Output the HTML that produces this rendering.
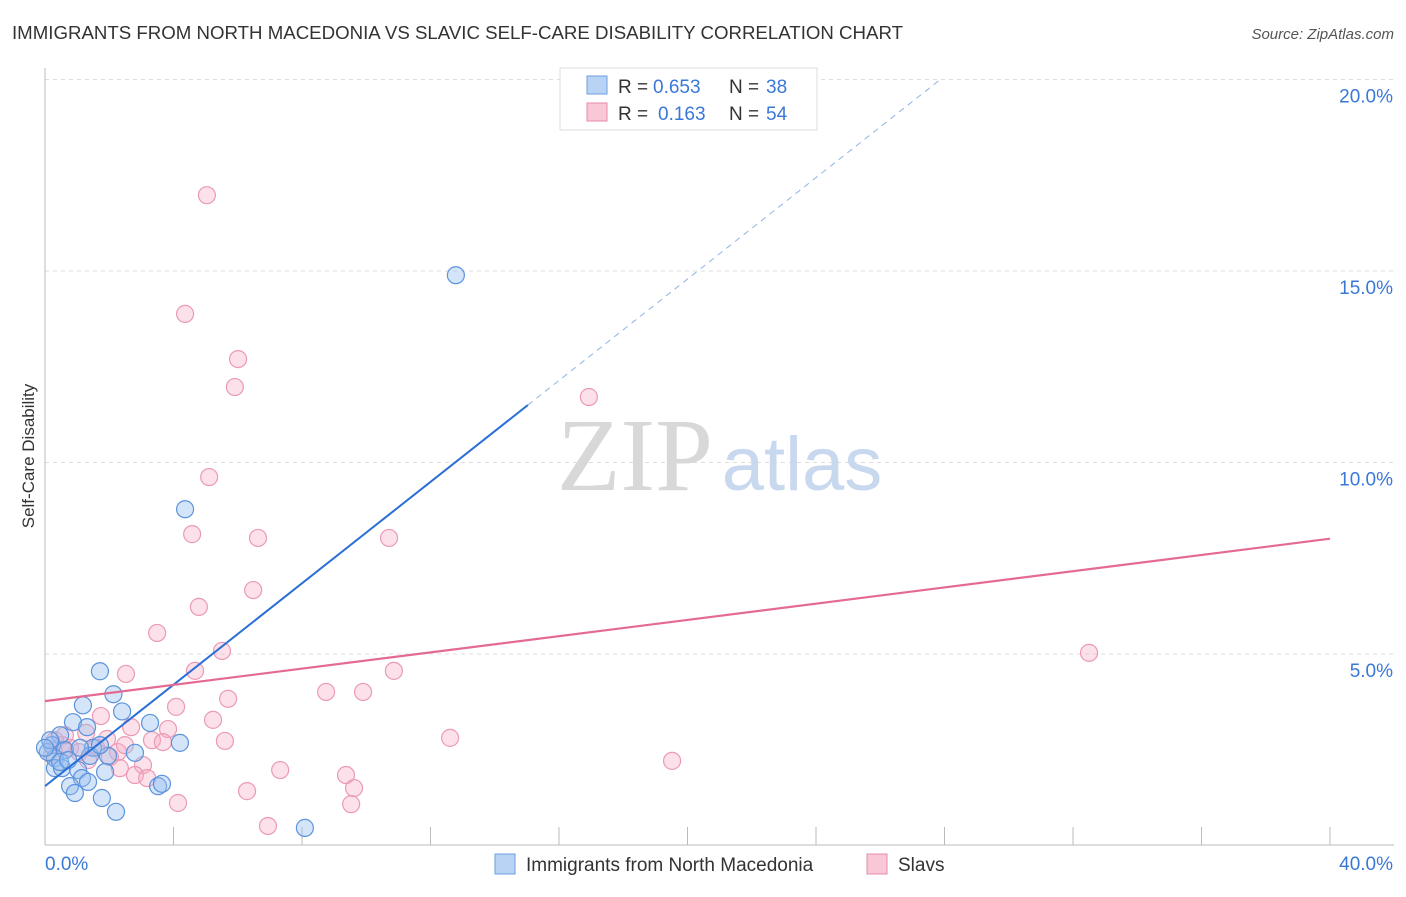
<!DOCTYPE html>
<html><head><meta charset="utf-8"><style>
body{margin:0;background:#fff;font-family:"Liberation Sans",sans-serif;}
</style></head><body>
<svg id="chart" width="1406" height="892" xmlns="http://www.w3.org/2000/svg">
<text x="12" y="39" font-size="18" fill="#333" textLength="891" lengthAdjust="spacingAndGlyphs">IMMIGRANTS FROM NORTH MACEDONIA VS SLAVIC SELF-CARE DISABILITY CORRELATION CHART</text>
<text x="1394" y="39" font-size="15" fill="#555" text-anchor="end" font-style="italic">Source: ZipAtlas.com</text>
<g id="grid"></g>
<text x="635" y="490" font-size="104" fill="#d8d8d8" font-family="Liberation Serif" text-anchor="middle">ZIP</text>
<text x="802" y="490" font-size="76" fill="#c8d8ef" text-anchor="middle">atlas</text>
<g id="marks"></g>
<text x="34" y="456" font-size="17" fill="#333" text-anchor="middle" transform="rotate(-90 34 456)">Self-Care Disability</text>
<g>
<rect x="560" y="68" width="257" height="62" fill="#fff" stroke="#ddd"/>
<rect x="587" y="76" width="20" height="18" fill="#b9d3f5" stroke="#6a9fe0"/>
<rect x="587" y="103" width="20" height="18" fill="#f8c8d6" stroke="#e98aa8"/>
<text x="618" y="93" font-size="19" fill="#333">R =</text>
<text x="653" y="93" font-size="19" fill="#3a78d8">0.653</text>
<text x="729" y="93" font-size="19" fill="#333">N =</text>
<text x="766" y="93" font-size="19" fill="#3a78d8">38</text>
<text x="618" y="120" font-size="19" fill="#333">R =</text>
<text x="658" y="120" font-size="19" fill="#3a78d8">0.163</text>
<text x="729" y="120" font-size="19" fill="#333">N =</text>
<text x="766" y="120" font-size="19" fill="#3a78d8">54</text>
</g>
<g>
<rect x="495" y="854" width="20" height="20" fill="#b9d3f5" stroke="#6a9fe0"/>
<text x="526" y="871" font-size="19" fill="#333">Immigrants from North Macedonia</text>
<rect x="867" y="854" width="20" height="20" fill="#f8c8d6" stroke="#e98aa8"/>
<text x="898" y="871" font-size="19" fill="#333">Slavs</text>
</g>
</svg>
<script>
const xTicks=[0,40];
const yTicks=[5,10,15,20];
const blueX=[12.79,4.36,1.71,2.13,1.18,2.40,0.87,1.31,3.27,4.20,0.47,0.22,0.62,1.49,2.80,1.96,1.40,0.31,0.09,0.31,0.53,1.03,1.87,1.15,1.34,0.78,3.52,3.64,0.93,1.77,2.21,8.09,0.16,0.47,1.71,0,0.72,1.09];
const blueY=[14.89,8.78,4.55,3.95,3.66,3.50,3.22,3.09,3.20,2.68,2.88,2.62,2.49,2.55,2.42,2.34,2.34,2.28,2.44,2.02,2.02,1.97,1.92,1.76,1.66,1.55,1.55,1.61,1.37,1.24,0.88,0.46,2.75,2.18,2.62,2.55,2.23,2.55];
const pinkX=[5.04,4.36,6.01,5.91,16.93,5.11,4.58,6.63,10.71,6.48,4.79,3.49,5.51,32.50,2.52,4.67,10.86,8.75,9.90,5.70,4.08,1.74,5.23,2.68,3.83,12.61,5.60,3.33,3.67,1.93,1.28,0.53,0.78,1.59,2.27,1.06,2.02,19.52,3.05,2.33,7.32,2.80,3.18,9.37,9.62,6.29,4.14,9.53,6.94,0.22,0.31,1.34,2.49,0.62];
const pinkY=[16.98,13.88,12.70,11.97,11.71,9.62,8.13,8.03,8.03,6.67,6.23,5.55,5.08,5.03,4.48,4.56,4.56,4.01,4.01,3.83,3.62,3.38,3.28,3.09,3.04,2.81,2.73,2.75,2.70,2.78,2.94,2.62,2.55,2.55,2.44,2.44,2.31,2.21,2.10,2.02,1.97,1.84,1.76,1.84,1.50,1.42,1.11,1.08,0.51,2.36,2.75,2.23,2.62,2.88];
const blueTrend=[1.55,0.662];
const pinkTrend=[3.77,0.106];
const NS='http://www.w3.org/2000/svg';
const X=v=>45+v*32.125, Y=v=>845.5-v*38.3;
function mk(t,a,p){const e=document.createElementNS(NS,t);for(const k in a)e.setAttribute(k,a[k]);p.appendChild(e);return e;}
const g=document.getElementById('grid'), m=document.getElementById('marks');
yTicks.forEach(t=>{
 const l=mk('line',{x1:45,x2:1394,y1:Y(t),y2:Y(t),stroke:'#ddd','stroke-dasharray':'4,4'},g);
 
 
 const tx=mk('text',{x:1393,y:Y(t)+23,'font-size':19,fill:'#3a78d8','text-anchor':'end'},g);
 tx.textContent=t.toFixed(1)+'%';
 
 
});
mk('line',{x1:45,x2:45,y1:68,y2:845,stroke:'#bbb'},g);
mk('line',{x1:45,x2:1394,y1:845,y2:845,stroke:'#bbb'},g);
for(let i=1;i<=10;i++){const tk=mk('line',{x1:X(i*4),x2:X(i*4),y1:827,y2:845,stroke:'#bbb'},g);
 
 }
xTicks.forEach((t,i)=>{const tx=mk('text',{x:i?1393:45,y:870,'font-size':19,fill:'#3a78d8','text-anchor':i?'end':'start'},g);
 tx.textContent=t.toFixed(1)+'%';
 
 });
pinkX.forEach((v,i)=>{const c=mk('circle',{cx:X(v),cy:Y(pinkY[i]),r:8.5,fill:'rgba(245,170,195,0.35)',stroke:'#eb9ab4','stroke-width':1.2},m);
 
 });
blueX.forEach((v,i)=>{const c=mk('circle',{cx:X(v),cy:Y(blueY[i]),r:8.5,fill:'rgba(150,190,240,0.4)',stroke:'#5b93dc','stroke-width':1.2},m);
 
 });
const bx1=15.03,bx2=27.86;
const b1=mk('line',{x1:X(0),y1:Y(blueTrend[0]),x2:X(bx1),y2:Y(blueTrend[0]+blueTrend[1]*bx1),stroke:'#2a6fd6','stroke-width':2},m);


const b2=mk('line',{x1:X(bx1),y1:Y(blueTrend[0]+blueTrend[1]*bx1),x2:X(bx2),y2:Y(blueTrend[0]+blueTrend[1]*bx2),stroke:'#8fb3e6','stroke-width':1,'stroke-dasharray':'6,5'},m);


const p1=mk('line',{x1:X(0),y1:Y(pinkTrend[0]),x2:X(40),y2:Y(pinkTrend[0]+pinkTrend[1]*40),stroke:'#e46a92','stroke-width':2.2},m);


</script>
</body></html>
